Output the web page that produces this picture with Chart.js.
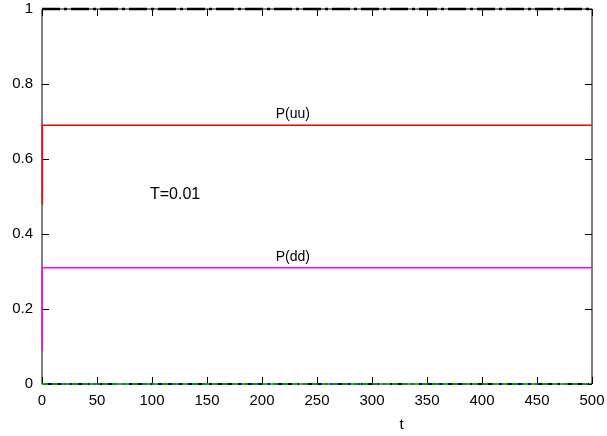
<!DOCTYPE html>
<html>
<head>
<meta charset="utf-8">
<script src="https://cdn.jsdelivr.net/npm/chart.js@4"></script>
<style>
  html, body { margin: 0; padding: 0; background: #fff; overflow: hidden; }
  #wrap { width: 607px; height: 436px; }
</style>
</head>
<body>
<div id="wrap"><canvas id="myChart"></canvas></div>
<script>
// time points (t) and probabilities
var tVals  = [0, 0.3, 500];
var pUU    = [0.48, 0.69, 0.69];
var pDD    = [0.09, 0.31, 0.31];
var pSum   = [1, 1, 1];
var pUD    = [0, 0, 0];
var pDU    = [0, 0, 0];
var pZero  = [0, 0, 0];
var xTicks = [0, 50, 100, 150, 200, 250, 300, 350, 400, 450, 500];
var yTicks = [0, 0.2, 0.4, 0.6, 0.8, 1];

function pts(ys) {
  return tVals.map(function(t, i) { return {x: t, y: ys[i]}; });
}

var fam = '"Liberation Sans", Arial, sans-serif';

// gnuplot style: frame, inward ticks on all sides, and text labels
var gnuFrame = {
  id: 'gnuFrame',
  beforeDatasetsDraw: function(chart) {
    var ctx = chart.ctx, a = chart.chartArea;
    var xs = chart.scales.x, ys = chart.scales.y;
    ctx.save();
    ctx.setLineDash([]);
    ctx.strokeStyle = '#000';
    ctx.lineWidth = 1;
    ctx.beginPath();
    ctx.moveTo(a.left, a.top); ctx.lineTo(a.right, a.top);
    ctx.lineTo(a.right, a.bottom); ctx.lineTo(a.left, a.bottom);
    ctx.closePath();
    xTicks.forEach(function(v) {
      var px = Math.round(xs.getPixelForValue(v)) + 0.5;
      ctx.moveTo(px, a.bottom); ctx.lineTo(px, a.bottom - 7);
      ctx.moveTo(px, a.top); ctx.lineTo(px, a.top + 7);
    });
    yTicks.forEach(function(v) {
      var py = Math.round(ys.getPixelForValue(v)) + 0.5;
      ctx.moveTo(a.left, py); ctx.lineTo(a.left + 7, py);
      ctx.moveTo(a.right, py); ctx.lineTo(a.right - 7, py);
    });
    ctx.stroke();
    ctx.restore();
  },
  afterDraw: function(chart) {
    var ctx = chart.ctx, a = chart.chartArea;
    var xs = chart.scales.x, ys = chart.scales.y;
    ctx.save();
    ctx.fillStyle = '#000';
    ctx.textAlign = 'center';
    ctx.textBaseline = 'middle';
    ctx.font = '14px ' + fam;
    ctx.fillText('P(uu)', xs.getPixelForValue(228), ys.getPixelForValue(0.72));
    ctx.fillText('P(dd)', xs.getPixelForValue(228), ys.getPixelForValue(0.338));
    ctx.font = '16px ' + fam;
    ctx.fillText('T=0.01', xs.getPixelForValue(121), ys.getPixelForValue(0.504));
    ctx.font = '15px ' + fam;
    ctx.fillText('t', xs.getPixelForValue(327), a.bottom + 41);
    ctx.restore();
  }
};

var ctx = document.getElementById('myChart').getContext('2d');
var myChart = new Chart(ctx, {
  type: 'line',
  data: {
    datasets: [
      { label: 'P(ud)', data: pts(pUD), borderColor: '#00cc00', borderWidth: 1.5, borderDash: [6, 4], pointRadius: 0 },
      { label: 'P(du)', data: pts(pDU), borderColor: '#0000ff', borderWidth: 1.5, borderDash: [3, 6], pointRadius: 0 },
      { label: 'zero', data: pts(pZero), borderColor: '#000', borderWidth: 2, borderDash: [18, 4, 3, 4], pointRadius: 0 },
      { label: 'sum', data: pts(pSum), borderColor: '#000', borderWidth: 2.5, borderDash: [18, 4, 3, 4], pointRadius: 0 },
      { label: 'P(uu)', data: pts(pUU), borderColor: '#ff0000', borderWidth: 1.5, pointRadius: 0 },
      { label: 'P(dd)', data: pts(pDD), borderColor: '#ff00ff', borderWidth: 1.5, pointRadius: 0 }
    ]
  },
  options: {
    responsive: true,
    maintainAspectRatio: false,
    animation: false,
    clip: false,
    layout: { padding: { top: 9, right: 15, left: 0, bottom: 0 } },
    plugins: { legend: { display: false }, tooltip: { enabled: false } },
    scales: {
      x: {
        type: 'linear', min: 0, max: 500,
        grid: { display: false, drawTicks: false },
        border: { display: false },
        afterFit: function(s) { s.height = 52; s.paddingLeft = 0; s.paddingRight = 0; },
        afterBuildTicks: function(s) { s.ticks = xTicks.map(function(v) { return {value: v}; }); },
        ticks: { padding: 8, maxRotation: 0, color: '#000', font: { family: fam, size: 15 } }
      },
      y: {
        type: 'linear', min: 0, max: 1,
        grid: { display: false, drawTicks: false },
        border: { display: false },
        afterFit: function(s) { s.width = 42; s.paddingTop = 0; s.paddingBottom = 0; },
        afterBuildTicks: function(s) { s.ticks = yTicks.map(function(v) { return {value: v}; }); },
        ticks: { padding: 9, color: '#000', font: { family: fam, size: 15 },
          callback: function(v) { return String(Math.round(v * 10) / 10); } }
      }
    }
  },
  plugins: [gnuFrame]
});
</script>
</body>
</html>
